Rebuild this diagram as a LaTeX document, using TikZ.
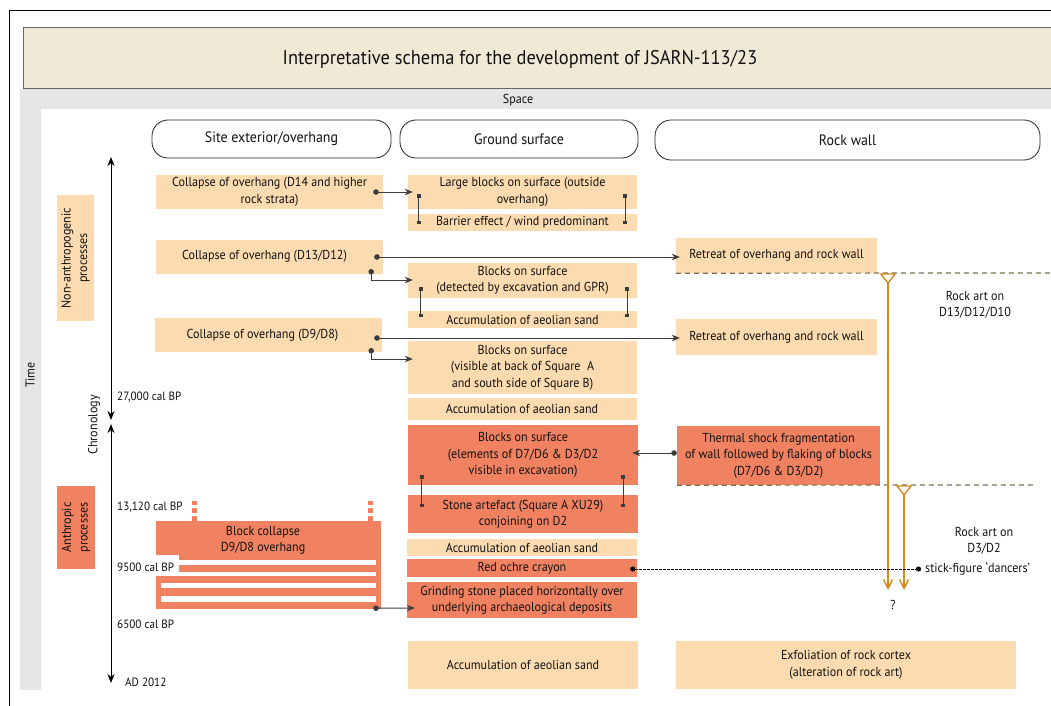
\documentclass[tikz,border=0pt]{standalone}
\usepackage{fontspec}
\setmainfont{PT Sans}[FakeStretch=0.93]
\usetikzlibrary{arrows.meta,calc}
\definecolor{sand}{HTML}{FCDBB0}
\definecolor{ochre}{HTML}{F08262}
\definecolor{titlebg}{HTML}{EFE9D5}
\definecolor{band}{HTML}{E6E6E6}
\definecolor{gold}{HTML}{D4891E}
\definecolor{olive}{HTML}{7D6E4B}
\definecolor{ink}{HTML}{3C3C3C}
\definecolor{txt}{HTML}{111111}

\begin{document}
\begin{tikzpicture}[x=1pt,y=-1pt,
  every node/.style={text=txt},
  box/.style={inner sep=0pt, align=center, font=\fontsize{13}{16.5}\selectfont},
  sandbox/.style={box, fill=sand},
  ochrebox/.style={box, fill=ochre},
  head/.style={draw=black!85, line width=0.8pt, rounded corners=16pt, inner sep=0pt,
    font=\fontsize{15}{17}\selectfont},
  lbl/.style={inner sep=0pt, anchor=west, font=\fontsize{12}{14}\selectfont},
  conn/.style={draw=ink, line width=1pt, {Circle[length=5.5pt]}-{Stealth[length=8pt,width=6.5pt]}},
  tie/.style={draw=ink, line width=1pt, {Square[length=3.5pt,width=3.5pt]}-{Square[length=3.5pt,width=3.5pt]}},
  chrono/.style={draw=black, line width=1pt, {Stealth[length=9pt,width=7pt]}-{Stealth[length=9pt,width=7pt]}},
  horizon/.style={draw=olive, line width=1.2pt, dash pattern=on 5pt off 4pt},
  artline/.style={draw=gold, line width=1.4pt},
]
\useasboundingbox (0,0) rectangle (1051,706);

% frame, title and axis bands
\draw[black, line width=1pt] (9,706) -- (9,11) -- (1051,11);
\fill[titlebg] (23,28) rectangle (1051,89);
\draw[black!60, line width=1pt] (1051,28) -- (23,28) -- (23,89) -- (1051,89);
\node[font=\fontsize{19.8}{23}\selectfont] (title) at (520,59)
  {Interpretative schema for the development of JSARN-113/23};
\fill[band] (20,89) rectangle (1051,109);
\fill[band] (20,89) rectangle (41,690);
\node[font=\fontsize{13}{14}\selectfont] (space) at (518,100) {Space};
\node[font=\fontsize{13}{14}\selectfont, rotate=90] (time) at (30,375) {Time};

% column headers
\node[head, minimum width=239pt, minimum height=38pt] (h1) at (271.5,139) {Site exterior/overhang};
\node[head, minimum width=238pt, minimum height=38pt] (h2) at (519,139) {Ground surface};
\node[head, minimum width=385pt, minimum height=40pt] (h3) at (847.5,140) {Rock wall};

% process groups
\node[sandbox, rotate=90, minimum width=126pt, minimum height=37pt] (nonanth) at (75.5,258)
  {Non-anthropogenic\\processes};
\node[ochrebox, rotate=90, minimum width=83pt, minimum height=38pt] (anth) at (76,527.5)
  {Anthropic\\processes};

% chronology axis
\coordinate (t1) at (111,157);
\coordinate (t2) at (111,420);
\coordinate (t3) at (111,424);
\coordinate (t4) at (111,683);
\draw[chrono] (t1) -- (t2);
\draw[chrono] (t3) -- (t4);
\node[font=\fontsize{13}{14}\selectfont, rotate=90] (chron) at (94,425) {Chronology};

% site exterior / overhang
\node[sandbox, minimum width=227pt, minimum height=34pt] (c1) at (269.5,192)
  {Collapse of overhang (D14 and higher\\rock strata)};
\node[sandbox, minimum width=227pt, minimum height=34pt] (c2) at (269.5,256.5)
  {\hspace*{-10pt}Collapse of overhang (D13/D12)};
\node[sandbox, minimum width=227pt, minimum height=34pt] (c3) at (268.5,335)
  {\hspace*{-12pt}Collapse of overhang (D9/D8)};

\fill[ochre] (156,521) rectangle (381,609);
\node[inner sep=0pt, minimum width=225pt, minimum height=88pt] (bc) at (268.5,565) {};
\fill[white] (156,555) rectangle (179,576);
\fill[white] (179,560) rectangle (376,565);
\fill[white] (179,572) rectangle (376,576);
\fill[white] (161,583) rectangle (376,588);
\fill[white] (161,596) rectangle (376,602);
\foreach \xx in {194,370}{
  \fill[ochre] (\xx-2.5,501) rectangle (\xx+2.5,505);
  \fill[ochre] (\xx-2.5,508) rectangle (\xx+2.5,513);
  \fill[ochre] (\xx-2.5,516) rectangle (\xx+2.5,521);
}
\node[box] (bct) at (263,540.5) {Block collapse\\D9/D8 overhang};

% dates along the axis
\node[lbl] (d27) at (117,397) {27,000 cal BP};
\node[lbl] (d13) at (117,507) {13,120 cal BP};
\node[lbl] (d95) at (117,567) {9500 cal BP};
\node[lbl] (d65) at (117,624) {6500 cal BP};
\node[lbl] (d20) at (125,682) {AD 2012};

% ground surface
\node[sandbox, minimum width=229pt, minimum height=34pt] (m1) at (522.5,192)
  {Large blocks on surface (outside\\overhang)};
\node[sandbox, minimum width=229pt, minimum height=17pt] (m2) at (522.5,222.5)
  {Barrier effect / wind predominant};
\node[sandbox, minimum width=229pt, minimum height=35pt] (m3) at (522.5,280.5)
  {Blocks on surface\\(detected by excavation and GPR)};
\node[sandbox, minimum width=229pt, minimum height=17pt] (m4) at (522.5,319.5)
  {Accumulation of aeolian sand};
\node[sandbox, minimum width=229pt, minimum height=53pt] (m5) at (522.5,367.5)
  {Blocks on surface\\(visible at back of Square\ \ A\\and south side of Square B)};
\node[sandbox, minimum width=229pt, minimum height=22pt] (m6) at (522,409)
  {Accumulation of aeolian sand};
\node[ochrebox, minimum width=230pt, minimum height=60pt] (m7) at (523,455)
  {Blocks on surface\\(elements of D7/D6 \& D3/D2\\visible in excavation)};
\node[ochrebox, minimum width=230pt, minimum height=38pt] (m8) at (523,514)
  {Stone artefact (Square A XU29)\\conjoining on D2};
\node[sandbox, minimum width=230pt, minimum height=17pt] (m9) at (522,547.5)
  {Accumulation of aeolian sand};
\node[ochrebox, minimum width=230pt, minimum height=18pt] (m10) at (522,568)
  {Red ochre crayon};
\node[ochrebox, minimum width=230pt, minimum height=36pt] (m11) at (522,600)
  {Grinding stone placed horizontally over\\underlying archaeological deposits};
\node[sandbox, minimum width=230pt, minimum height=48pt] (m12) at (523,665)
  {Accumulation of aeolian sand};

% rock wall
\node[sandbox, minimum width=201pt, minimum height=35pt] (r1) at (776.5,255.5)
  {Retreat of overhang and rock wall};
\node[sandbox, minimum width=201pt, minimum height=36pt] (r2) at (776.5,337)
  {Retreat of overhang and rock wall};
\node[ochrebox, minimum width=203pt, minimum height=59pt] (r3) at (778.5,455.5)
  {Thermal shock fragmentation\\of wall followed by flaking of blocks\\(D7/D6 \& D3/D2)};
\node[sandbox, minimum width=340pt, minimum height=48pt] (r4) at (846,665)
  {Exfoliation of rock cortex\\(alteration of rock art)};

\node[box] (art1) at (975,305) {Rock art on\\D13/D12/D10};
\node[box] (art2) at (984,541) {Rock art on\\D3/D2};
\node[box, anchor=west] (dancers) at (925,569) {stick-figure ‘dancers’};
\node[box] (query) at (893,605) {?};

% rock art horizons
\coordinate (hz1) at (1051,273);
\coordinate (hz2) at (1035,485);
\draw[horizon] (r1.south west) -- (hz1);
\draw[horizon] (r3.south west) -- (hz2);

\draw[artline, line join=miter] (881,274) -- (895,274) -- (888,283) -- cycle;
\draw[artline, line join=miter] (897,486) -- (911,486) -- (904,495) -- cycle;
\coordinate (a1s) at (888,283);
\coordinate (a1e) at (888,590);
\coordinate (a2s) at (904,495);
\coordinate (a2e) at (904,590);
\draw[artline, -{Straight Barb[length=9pt,width=9pt]}] (a1s) -- (a1e);
\draw[artline, -{Straight Barb[length=9pt,width=9pt]}] (a2s) -- (a2e);

% connectors
\draw[conn] ($(c1.east)+(-10,0)$) -- ($(m1.west)+(5,0)$);
\draw[conn] ($(c2.east)+(-9,0.5)$) -- ($(r1.west)+(4,1.5)$);
\draw[conn] ($(c2.east)+(-12,12.5)$) |- ($(m3.west)+(5,-0.5)$);
\draw[conn] ($(c3.east)+(-8,3)$) -- ($(r2.west)+(4,1)$);
\draw[conn] ($(c3.east)+(-11,13)$) |- ($(m5.west)+(5,-8.5)$);
\draw[conn] ($(r3.west)+(0,-2.5)$) -- ($(m7.east)+(-6,-2)$);
\draw[conn] ($(bc.south east)+(-8,-1)$) -- ($(m11.west)+(8,8)$);
\draw[draw=black, line width=0.8pt, dash pattern=on 3pt off 1pt,
  {Circle[length=5pt]}-{Circle[length=5pt]}]
  ($(m10.east)+(-7,1)$) -- ($(dancers.west)+(-4,0)$);

% pairings within the ground surface column
\draw[tie] ($(m1.west)+(11,2)$) -- ($(m2.west)+(11,1.5)$);
\draw[tie] ($(m1.east)+(-12,2)$) -- ($(m2.east)+(-12,1.5)$);
\draw[tie] ($(m3.west)+(13,6.5)$) -- ($(m4.west)+(13,-2.5)$);
\draw[tie] ($(m3.east)+(-10,6.5)$) -- ($(m4.east)+(-10,-2.5)$);
\draw[tie] ($(m7.west)+(14,20)$) -- ($(m8.west)+(14,-7)$);
\draw[tie] ($(m7.east)+(-15,20)$) -- ($(m8.east)+(-15,-7)$);
\end{tikzpicture}
\end{document}
